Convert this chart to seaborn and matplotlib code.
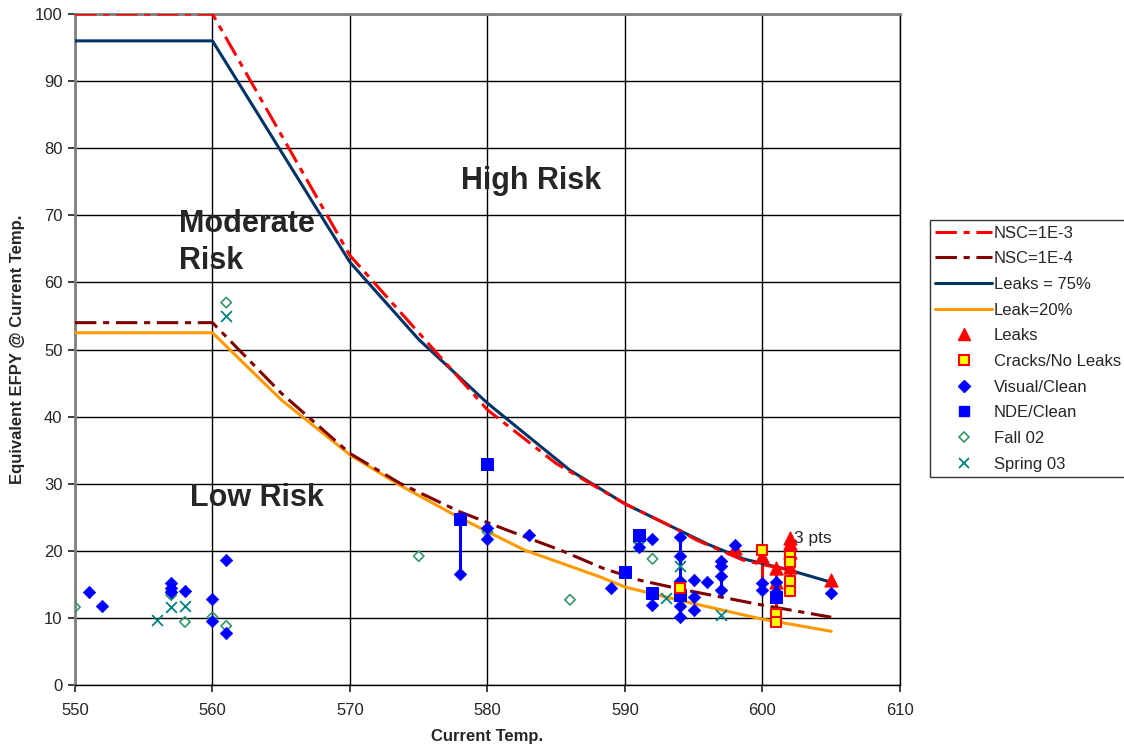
import matplotlib
matplotlib.use("Agg")
import matplotlib.pyplot as plt
import seaborn as sns
from matplotlib.lines import Line2D

sns.set_theme(style="white")
plt.rcParams['font.family'] = ['Liberation Sans', 'DejaVu Sans']

# ---- curve data ----
nsc3_x = [550, 560, 570, 575, 580, 585, 590, 594, 595.2, 596.9, 598.6, 600.8, 602]
nsc3_y = [100, 100, 64, 52.5, 41, 33, 27, 23, 21.6, 20.1, 18.6, 17.6, 17.2]
leak75_x = [550, 560, 570, 575, 580, 586, 590, 594, 596, 598.6, 602, 605]
leak75_y = [96, 96, 63, 51.5, 42, 32, 27, 23, 21, 18.8, 17.1, 15.3]
nsc4_x = [550, 560, 565, 570, 573.6, 578, 581.4, 585.3, 588.4, 591.1, 594, 600, 605]
nsc4_y = [54, 54, 43.5, 34.5, 30.1, 25.8, 23.1, 20.1, 17.4, 15.6, 14.3, 11.9, 10.1]
leak20_x = [550, 560, 565, 570, 573.6, 578, 582.7, 588.2, 590, 594, 600, 605]
leak20_y = [52.5, 52.5, 42.5, 34.3, 29.8, 24.9, 20.1, 16.1, 14.6, 12.6, 9.8, 8.0]

# ---- point data ----
leaks_x = [598, 600, 601, 601, 602, 602, 602, 602, 605]
leaks_y = [20.4, 19.2, 17.4, 15.4, 21.9, 21.2, 19.8, 17.6, 15.6]
cracks_x = [594, 600, 601, 601, 602, 602, 602, 602]
cracks_y = [14.5, 20.1, 10.6, 9.4, 19.2, 18.3, 15.5, 14.0]
visual_x = [551, 552, 557, 557, 557, 558, 560, 560, 561, 561,
            578, 580, 580, 583, 589, 591, 592, 592,
            594, 594, 594, 594, 594, 594, 595, 595, 595, 596,
            597, 597, 597, 597, 598, 600, 600, 601, 601, 605]
visual_y = [13.8, 11.8, 15.2, 14.4, 13.9, 14.0, 12.8, 9.5, 18.7, 7.7,
            16.5, 23.4, 21.8, 22.3, 14.4, 20.6, 21.8, 11.9,
            22.1, 19.2, 15.5, 14.0, 11.7, 10.2, 15.7, 13.1, 11.2, 15.3,
            18.5, 17.8, 16.3, 14.1, 20.8, 15.2, 14.2, 15.3, 13.9, 13.7]
nde_x = [578, 580, 590, 591, 592, 594, 601]
nde_y = [24.8, 33.0, 16.8, 22.3, 13.7, 13.4, 13.1]
fall_x = [550, 557, 557, 558, 560, 561, 561, 575, 580, 586, 591, 592, 592]
fall_y = [11.6, 13.9, 13.4, 9.4, 10.1, 8.8, 57.0, 19.2, 22.8, 12.7, 21.3, 18.8, 13.3]
spring_x = [556, 557, 558, 561, 591, 593, 594, 597]
spring_y = [9.7, 11.6, 11.8, 55.0, 20.7, 13.0, 17.7, 10.4]

# vertical connecting segments
vseg_blue_x = [578, 594, 597, 591]
vseg_blue_lo = [16.5, 10.2, 14.1, 20.6]
vseg_blue_hi = [24.8, 22.1, 18.5, 22.3]
vseg_red_x = [600, 601, 602]
vseg_red_lo = [14.2, 9.4, 14.0]
vseg_red_hi = [20.1, 17.4, 21.9]

fig = plt.figure(figsize=(11.24, 7.5), dpi=100)
ax = fig.add_axes([0.0667, 0.0867, 0.734, 0.8946])
ax.set_facecolor("white")

ax.vlines(vseg_blue_x, vseg_blue_lo, vseg_blue_hi, colors="#0000FF", linewidth=2.2, zorder=3)
ax.vlines(vseg_red_x, vseg_red_lo, vseg_red_hi, colors="#FF0000", linewidth=2.2, zorder=3)

dash = (7, 2.2, 2, 2.2)
sns.lineplot(x=leak75_x, y=leak75_y, ax=ax, color="#003366", linewidth=2.2, sort=False, zorder=4)
sns.lineplot(x=nsc3_x, y=nsc3_y, ax=ax, color="#FF0000", linewidth=2.2, sort=False, zorder=5)
ax.lines[-1].set_dashes(dash)
sns.lineplot(x=leak20_x, y=leak20_y, ax=ax, color="#FF9900", linewidth=2.2, sort=False, zorder=4)
sns.lineplot(x=nsc4_x, y=nsc4_y, ax=ax, color="#800000", linewidth=2.2, sort=False, zorder=5)
ax.lines[-1].set_dashes(dash)

sns.scatterplot(x=fall_x, y=fall_y, ax=ax, marker="D", s=28, facecolor="none",
                edgecolor="#339966", linewidth=1.2, zorder=6)
sns.scatterplot(x=spring_x, y=spring_y, ax=ax, marker="x", s=60, color="#008080",
                linewidth=1.3, zorder=6)
sns.scatterplot(x=leaks_x, y=leaks_y, ax=ax, marker="^", s=90, color="#FF0000",
                edgecolor="#FF0000", zorder=7)
sns.scatterplot(x=visual_x, y=visual_y, ax=ax, marker="D", s=40, color="#0000FF",
                edgecolor="#0000FF", zorder=8)
sns.scatterplot(x=nde_x, y=nde_y, ax=ax, marker="s", s=80, color="#0000FF",
                edgecolor="#0000FF", zorder=8)
sns.scatterplot(x=cracks_x, y=cracks_y, ax=ax, marker="s", s=55, color="#FFFF00",
                edgecolor="#FF0000", linewidth=1.5, zorder=9)

ax.set_xlim(550, 610)
ax.set_ylim(0, 100)
ax.set_xticks(range(550, 611, 10))
ax.set_yticks(range(0, 101, 10))
ax.grid(True, color="black", linewidth=1.0)
ax.set_axisbelow(True)
ax.tick_params(axis="both", labelsize=12, length=5, direction="out", left=True, bottom=True)
ax.tick_params(axis="x", pad=8)
ax.tick_params(axis="y", pad=4)
for side in ["left", "top"]:
    ax.spines[side].set_color("#808080")
    ax.spines[side].set_linewidth(2)
for side in ["right", "bottom"]:
    ax.spines[side].set_color("black")
    ax.spines[side].set_linewidth(1)

ax.set_xlabel("Current Temp.", fontsize=12, fontweight="bold", labelpad=8)
ax.set_ylabel("Equivalent EFPY @ Current Temp.", fontsize=12, fontweight="bold", labelpad=7)

ax.text(583.2, 75.1, "High Risk", fontsize=22, fontweight="bold", ha="center", va="center")
ax.text(557.6, 65.9, "Moderate\nRisk", fontsize=22, fontweight="bold", ha="left", va="center",
        linespacing=1.32)
ax.text(563.2, 27.9, "Low Risk", fontsize=22, fontweight="bold", ha="center", va="center")
ax.text(602.3, 21.9, "3 pts", fontsize=12.5, ha="left", va="center")

handles = [
    Line2D([], [], color="#FF0000", linewidth=2.2, dashes=dash),
    Line2D([], [], color="#800000", linewidth=2.2, dashes=dash),
    Line2D([], [], color="#003366", linewidth=2.2),
    Line2D([], [], color="#FF9900", linewidth=2.2),
    Line2D([], [], color="#FF0000", marker="^", linestyle="none", markersize=8),
    Line2D([], [], marker="s", linestyle="none", markersize=7, markerfacecolor="#FFFF00",
           markeredgecolor="#FF0000", markeredgewidth=1.5),
    Line2D([], [], color="#0000FF", marker="D", linestyle="none", markersize=6),
    Line2D([], [], color="#0000FF", marker="s", linestyle="none", markersize=7),
    Line2D([], [], marker="D", linestyle="none", markersize=5, markerfacecolor="none",
           markeredgecolor="#339966", markeredgewidth=1.2),
    Line2D([], [], color="#008080", marker="x", linestyle="none", markersize=7, markeredgewidth=1.3),
]
labels = ["NSC=1E-3", "NSC=1E-4", "Leaks = 75%", "Leak=20%", "Leaks", "Cracks/No Leaks",
          "Visual/Clean", "NDE/Clean", "Fall 02", "Spring 03"]
leg = fig.legend(handles, labels, loc="upper left", bbox_to_anchor=(0.827, 0.707),
                 fontsize=12, frameon=True, fancybox=False, edgecolor="black",
                 handlelength=3.4, handletextpad=0.1, labelspacing=0.64, borderpad=0.35,
                 borderaxespad=0)
leg.get_frame().set_linewidth(1.0)

fig.savefig("out.png", dpi=100, facecolor="white")
